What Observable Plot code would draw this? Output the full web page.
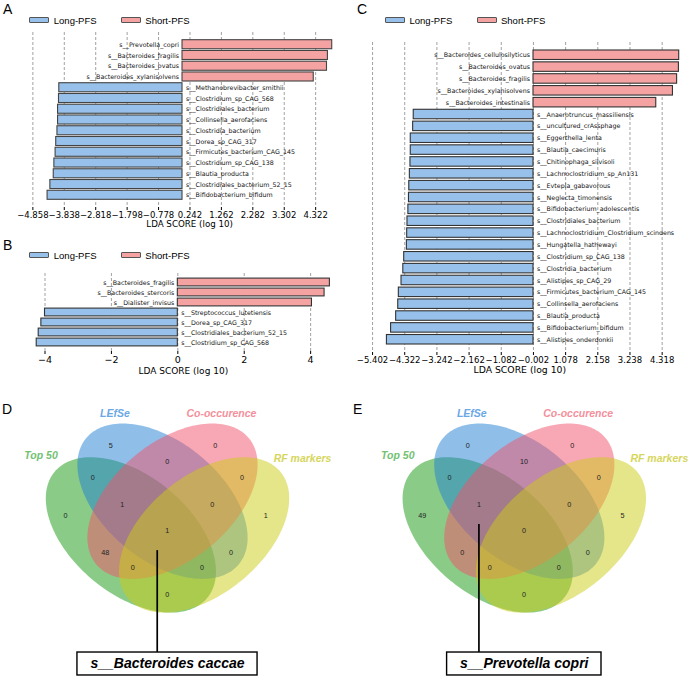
<!DOCTYPE html>
<html><head><meta charset="utf-8">
<script src="https://cdn.jsdelivr.net/npm/d3@7"></script>
<script src="https://cdn.jsdelivr.net/npm/@observablehq/plot@0.6"></script>
<style>
body{margin:0;background:#fff;}
#fig{position:relative;width:688px;height:679px;overflow:hidden;font-family:"Liberation Sans",Arial,sans-serif;background:#fff;}
.letter{position:absolute;font-size:14px;line-height:14px;color:#000;}
.leg{position:absolute;height:12px;display:flex;align-items:center;font-size:9.5px;white-space:nowrap;}
.item{display:flex;align-items:center;width:91.5px;}
.sw{display:inline-block;width:18px;height:4.5px;border:0.9px solid #555;border-radius:1px;margin-right:4.5px;}
</style></head><body><div id="fig"></div>
<script>
// ---------------- DATA ----------------
const groups = ["Long-PFS", "Short-PFS"];

const aNames = ["s__Prevotella_copri","s__Bacteroides_fragilis","s__Bacteroides_ovatus","s__Bacteroides_xylanisolvens","s__Methanobrevibacter_smithii","s__Clostridium_sp_CAG_568","s__Clostridiales_bacterium","s__Collinsella_aerofaciens","s__Clostridia_bacterium","s__Dorea_sp_CAG_317","s__Firmicutes_bacterium_CAG_145","s__Clostridium_sp_CAG_138","s__Blautia_producta","s__Clostridiales_bacterium_52_15","s__Bifidobacterium_bifidum"];
const aScores = [4.86, 4.72, 4.69, 4.26, -4.00, -4.01, -4.04, -4.04, -4.06, -4.10, -4.12, -4.16, -4.18, -4.29, -4.38];
const aTicks = [-4.858, -3.838, -2.818, -1.798, -0.778, 0.242, 1.262, 2.282, 3.302, 4.322];

const bNames = ["s__Bacteroides_fragilis","s__Bacteroides_stercoris","s__Dialister_invisus","s__Streptococcus_lutetiensis","s__Dorea_sp_CAG_317","s__Clostridiales_bacterium_52_15","s__Clostridium_sp_CAG_568"];
const bScores = [4.58, 4.42, 4.04, -4.00, -4.11, -4.19, -4.25];
const bTicks = [-4, -2, 0, 2, 4];

const cNames = ["s__Bacteroides_cellulosilyticus","s__Bacteroides_ovatus","s__Bacteroides_fragilis","s__Bacteroides_xylanisolvens","s__Bacteroides_intestinalis","s__Anaerotruncus_massiliensis","s__uncultured_crAssphage","s__Eggerthella_lenta","s__Blautia_caecimuris","s__Chitinophaga_silvisoli","s__Lachnoclostridium_sp_An131","s__Evtepia_gabavorous","s__Neglecta_timonensis","s__Bifidobacterium_adolescentis","s__Clostridiales_bacterium","s__Lachnoclostridium_Clostridium_scindens","s__Hungatella_hathewayi","s__Clostridium_sp_CAG_138","s__Clostridia_bacterium","s__Alistipes_sp_CAG_29","s__Firmicutes_bacterium_CAG_145","s__Collinsella_aerofaciens","s__Blautia_producta","s__Bifidobacterium_bifidum","s__Alistipes_onderdonkii"];
const cScores = [4.89, 4.88, 4.82, 4.68, 4.12, -4.02, -4.04, -4.12, -4.12, -4.13, -4.15, -4.17, -4.18, -4.20, -4.23, -4.24, -4.25, -4.34, -4.37, -4.43, -4.52, -4.54, -4.61, -4.78, -4.92];
const cTicks = [-5.402, -4.322, -3.242, -2.162, -1.082, -0.002, 1.078, 2.158, 3.238, 4.318];

const axisTitle = "LDA SCORE (log 10)";

// Venn sets: G = Top 50, B = LEfSe, P = Co-occurence, Y = RF markers
const setKeys = ["G", "B", "P", "Y"];
const setNames = ["Top 50", "LEfSe", "Co-occurence", "RF markers"];
const regions = ["B","P","BP","GB","PY","G","GBP","BPY","Y","GBPY","GP","BY","GPY","GBY","GY"];
const dCounts = [5, 0, 0, 0, 0, 0, 1, 0, 1, 1, 48, 0, 0, 0, 0];
const eCounts = [0, 0, 10, 0, 0, 49, 1, 0, 5, 0, 0, 0, 0, 0, 0];
const dCallout = {label: "s__Bacteroides caccae", region: "GBPY"};
const eCallout = {label: "s__Prevotella copri", region: "GBP"};

// ---------------- STYLE / LAYOUT ----------------
const barColors = ["#97c1ea", "#f4a2a2"];
const vennFill = ["rgb(23,151,17)", "rgb(31,127,209)", "rgb(241,81,105)", "rgb(203,203,21)"];
const vennLabelColor = ["#72c272", "#6aa8e6", "#f4909c", "#d6d65c"];
// four-ellipse venn geometry in unit coordinates: [cx, cy, rotation°]
const ellipseGeom = {G:[0.3669,0.4822,140.5], B:[0.4818,0.6047,140.5], P:[0.5182,0.6047,39.5], Y:[0.6331,0.4822,39.5]};
const ellA = 0.36, ellB = 0.2145;
const regionPos = {B:[0.294,0.807], P:[0.674,0.807], BP:[0.499,0.749], GB:[0.228,0.689], PY:[0.771,0.689],
  G:[0.129,0.552], GBP:[0.335,0.592], BPY:[0.663,0.592], Y:[0.857,0.552], GBPY:[0.499,0.497],
  GP:[0.274,0.4185], BY:[0.731,0.4185], GPY:[0.374,0.362], GBY:[0.625,0.362], GY:[0.499,0.265]};
const setLabelPos = {G:[0.04,0.77], B:[0.309,0.922], P:[0.696,0.922], Y:[0.991,0.76]};
const PXU = 275;

const fig = document.getElementById("fig");

function place(el, left, top) {
  el.style.position = "absolute"; el.style.left = left + "px"; el.style.top = top + "px";
  fig.appendChild(el);
}
function letter(t, left, baseline) {
  const d = document.createElement("div"); d.className = "letter"; d.textContent = t;
  place(d, left, baseline - 11.9);
}
function legend(left, cy) {
  const d = document.createElement("div"); d.className = "leg";
  groups.forEach((g, i) => {
    const it = document.createElement("div"); it.className = "item";
    const sw = document.createElement("span"); sw.className = "sw"; sw.style.background = barColors[i];
    const tx = document.createElement("span"); tx.textContent = g;
    it.appendChild(sw); it.appendChild(tx); d.appendChild(it);
  });
  place(d, left, cy - 6);
}

function barPanel(o) {
  const data = o.names.map((n, i) => ({name: n, score: o.scores[i], group: o.scores[i] > 0 ? groups[1] : groups[0]}));
  const svg = Plot.plot({
    width: o.width, height: o.height,
    marginTop: o.mt, marginBottom: o.mb, marginLeft: o.ml, marginRight: o.mr,
    x: {domain: o.domain, ticks: o.ticks, tickFormat: o.fmt, label: null, tickSize: 3, tickPadding: o.tp},
    y: {domain: o.names, axis: null, paddingInner: o.pi, paddingOuter: o.po, round: false},
    color: {domain: groups, range: barColors},
    style: {fontFamily: "DejaVu Sans", fontSize: o.tickFont + "px", color: "#000", background: "transparent", overflow: "visible"},
    marks: [
      Plot.ruleX(o.ticks, {stroke: "#8a8a8a", strokeWidth: 0.8, strokeDasharray: "3,2"}),
      Plot.barX(data, {x: "score", y: "name", fill: "group", stroke: o.barStroke, strokeWidth: 1.1}),
      Plot.text(data.filter(d => d.score > 0), {x: 0, y: "name", text: "name", textAnchor: "end", dx: -3.5, fontSize: o.labelFont, fill: "#111"}),
      Plot.text(data.filter(d => d.score < 0), {x: 0, y: "name", text: "name", textAnchor: "start", dx: 3.5, fontSize: o.labelFont, fill: "#111"}),
      Plot.text([axisTitle], {frameAnchor: "bottom", dy: o.titleDy, fontSize: o.titleFont, fill: "#000"})
    ]
  });
  place(svg, o.left, o.top);
}

const f3 = d3.format(".3f");
const fg = d3.format("~g");

barPanel({names: aNames, scores: aScores, ticks: aTicks, fmt: f3, left: 0, top: 25, width: 346, height: 207,
  mt: 7, mb: 25, ml: 32.3, mr: 0.1, domain: [-4.86, 5.32], pi: 0.16, po: 0.716, tp: 1.5,
  tickFont: 8.5, labelFont: 6.3, titleFont: 8.7, titleDy: 19, barStroke: "#444"});
barPanel({names: bNames, scores: bScores, ticks: bTicks, fmt: fg, left: 0, top: 265, width: 346, height: 115,
  mt: 8, mb: 29, ml: 21.6, mr: 2, domain: [-4.69, 5.02], pi: 0.22, po: 0.51, tp: 1.5,
  tickFont: 9.5, labelFont: 6.3, titleFont: 9, titleDy: 22, barStroke: "#333"});
barPanel({names: cNames, scores: cScores, ticks: cTicks, fmt: f3, left: 345, top: 30, width: 343, height: 352,
  mt: 12, mb: 30, ml: 14.6, mr: 9, domain: [-5.82, 4.9], pi: 0.2, po: 0.675, tp: 1.5,
  tickFont: 8.5, labelFont: 6.3, titleFont: 9.3, titleDy: 20, barStroke: "#333"});

letter("A", 3, 14); letter("B", 3, 250); letter("C", 357, 14); letter("D", 2, 414); letter("E", 353, 414);
legend(29.3, 20); legend(29.3, 255.2); legend(385, 20);

// ---------------- VENN ----------------
function ellipsePts(key) {
  const [cx, cy, deg] = ellipseGeom[key];
  const r = deg * Math.PI / 180;
  return d3.range(0, 360, 2).map(t => {
    const tt = t * Math.PI / 180;
    return {x: cx + ellA * Math.cos(tt) * Math.cos(r) - ellB * Math.sin(tt) * Math.sin(r),
            y: cy + ellA * Math.cos(tt) * Math.sin(r) + ellB * Math.sin(tt) * Math.cos(r)};
  });
}
const ctx = document.createElement("canvas").getContext("2d");
function vennPanel(counts, callout, left, top, centerPx, lineDx) {
  const W = 344, H = 284, cyPx = 134.5;
  const xDomain = [0.5 - centerPx / PXU, 0.5 + (W - centerPx) / PXU];
  const yDomain = [0.5 - (H - cyPx) / PXU, 0.5 + cyPx / PXU];
  const regData = regions.map((r, i) => ({x: regionPos[r][0], y: regionPos[r][1], n: counts[i]}));
  const setData = setKeys.map((k, i) => ({x: setLabelPos[k][0], y: setLabelPos[k][1], name: setNames[i], color: vennLabelColor[i]}));
  const anchor = regionPos[callout.region];
  const boxTop = 0.0545, boxBottom = -0.029;
  ctx.font = "italic bold 14px 'Liberation Sans'";
  const tw = (ctx.measureText(callout.label).width + 26) / PXU;
  const svg = Plot.plot({
    width: W, height: H, margin: 0,
    x: {domain: xDomain, axis: null}, y: {domain: yDomain, axis: null},
    style: {fontFamily: "Liberation Sans", background: "transparent", overflow: "visible"},
    marks: [
      ...setKeys.map((k, i) => Plot.line(ellipsePts(k), {x: "x", y: "y", curve: "linear-closed", fill: vennFill[i], fillOpacity: 0.5, stroke: "none"})),
      Plot.text(regData, {x: "x", y: "y", text: d => String(d.n), fontSize: 7.2, fill: "#222"}),
      Plot.text(setData, {x: "x", y: "y", text: "name", fill: "color", fontSize: 10.5, fontWeight: "bold", fontStyle: "italic"}),
      Plot.ruleX([anchor], {x: d => d[0], y1: d => d[1] - 0.072, y2: boxTop, stroke: "#000", strokeWidth: 1.7, dx: lineDx}),
      Plot.rect([callout], {x1: 0.5 - tw / 2, x2: 0.5 + tw / 2, y1: boxBottom, y2: boxTop, fill: "#fff", stroke: "#000", strokeWidth: 1.4}),
      Plot.text([callout], {x: 0.5, y: (boxTop + boxBottom) / 2, text: "label", fontSize: 14, fontWeight: "bold", fontStyle: "italic", fill: "#000"})
    ]
  });
  place(svg, left, top);
}
vennPanel(dCounts, dCallout, 0, 395, 167, -10);
vennPanel(eCounts, eCallout, 344, 395, 179.8, 0);
</script></body></html>
